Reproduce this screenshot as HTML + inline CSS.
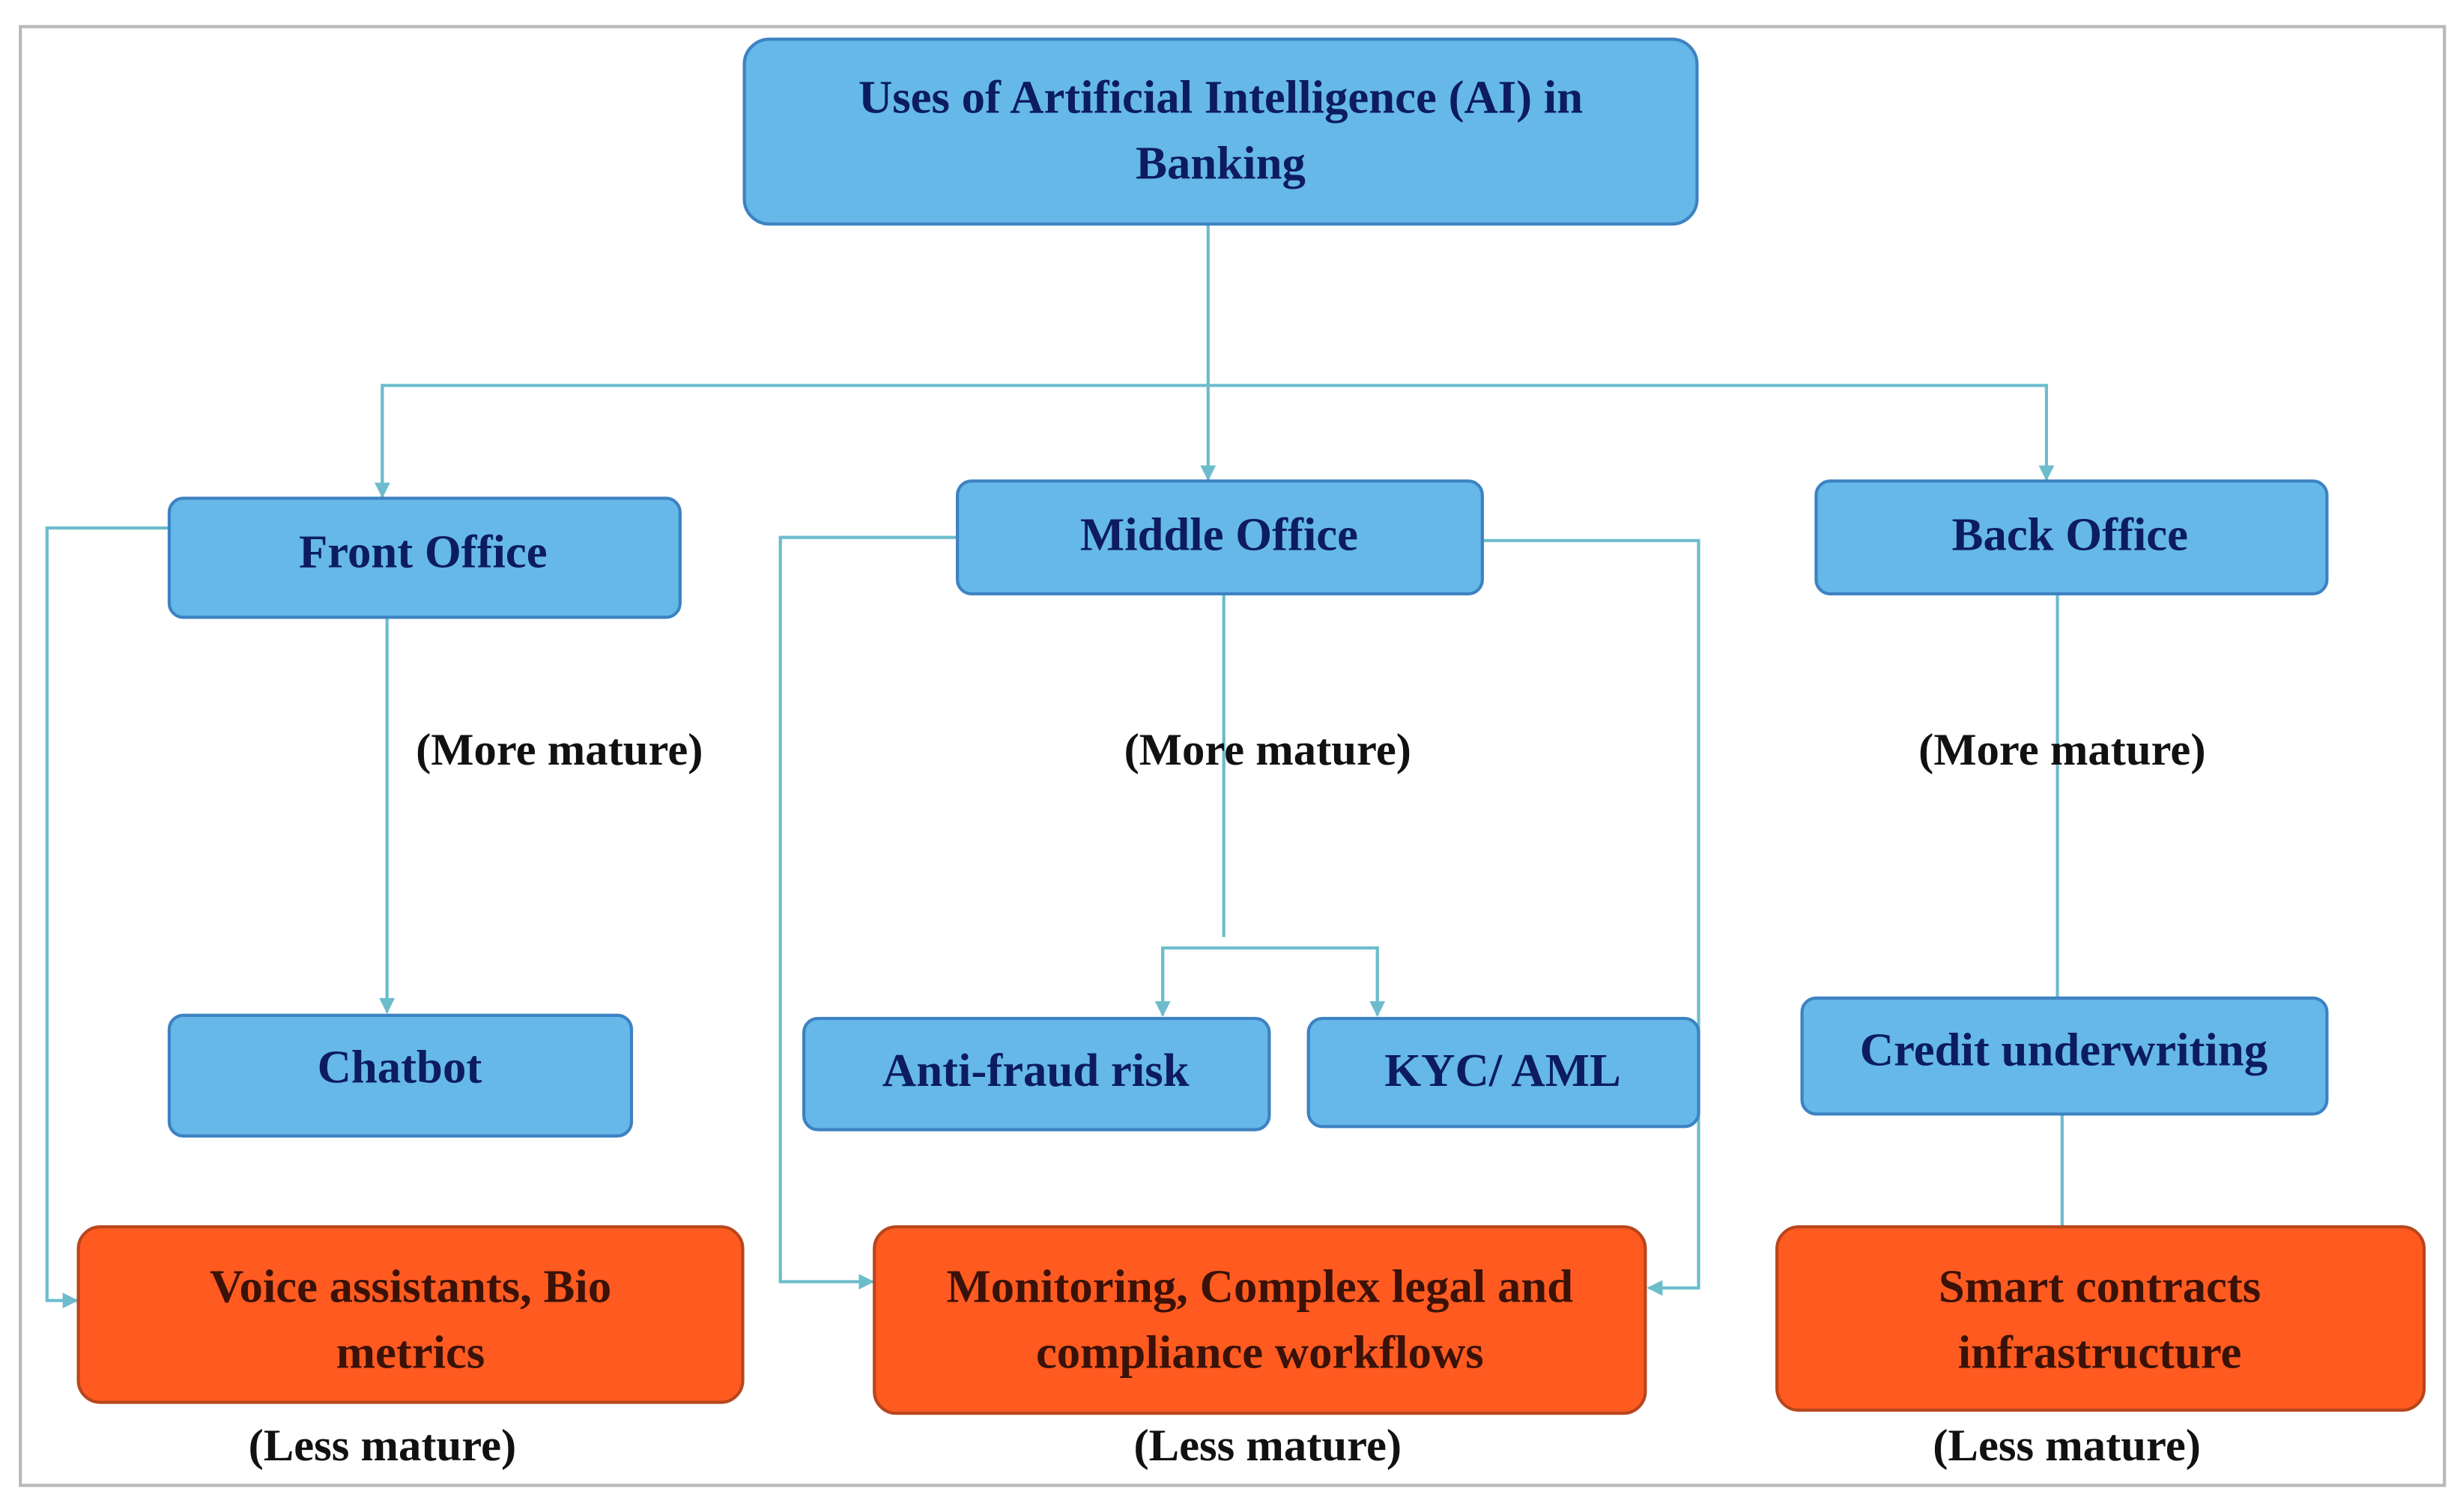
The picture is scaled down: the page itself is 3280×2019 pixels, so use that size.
<!DOCTYPE html>
<html><head><meta charset="utf-8"><style>
html,body{margin:0;padding:0;background:#fff;}
svg{display:block;}
text{font-family:"Liberation Serif",serif;font-weight:bold;}
</style></head><body>
<svg width="3280" height="2019" viewBox="0 0 1568 965" preserveAspectRatio="none" xmlns="http://www.w3.org/2000/svg">
<defs>
<marker id="a" markerWidth="10" markerHeight="10" refX="9" refY="5" orient="auto" markerUnits="userSpaceOnUse">
<path d="M0,0 L10,5 L0,10 z" fill="#6cbccc"/></marker>
</defs>
<rect x="0" y="0" width="1568" height="965" fill="#fff"/>
<rect x="13" y="17" width="1547" height="931" fill="none" stroke="#b8b8b8" stroke-width="2"/>
<g fill="none" stroke="#6cbccc" stroke-width="2">
<line x1="771" y1="143" x2="771" y2="306" marker-end="url(#a)"/>
<polyline points="244,318 244,246 1306,246 1306,306" marker-end="url(#a)"/>
<line x1="244" y1="246" x2="244" y2="317" marker-end="url(#a)"/>
<polyline points="108,337 30,337 30,830 49,830" marker-end="url(#a)"/>
<line x1="247" y1="394" x2="247" y2="646" marker-end="url(#a)"/>
<polyline points="611,343 498,343 498,818 557,818" marker-end="url(#a)"/>
<polyline points="946,345 1084,345 1084,822 1052,822" marker-end="url(#a)"/>
<line x1="781" y1="379" x2="781" y2="598"/>
<polyline points="742,648 742,605 879,605 879,648" marker-end="url(#a)"/>
<line x1="742" y1="605" x2="742" y2="648" marker-end="url(#a)"/>
<line x1="1313" y1="379" x2="1313" y2="636"/>
<line x1="1316" y1="711" x2="1316" y2="802" marker-end="url(#a)"/>
</g>
<g fill="#65b8e8" stroke="#3d82c2" stroke-width="2">
<rect x="475" y="25" width="608" height="118" rx="16"/>
<rect x="108" y="318" width="326" height="76" rx="9"/>
<rect x="611" y="307" width="335" height="72" rx="9"/>
<rect x="1159" y="307" width="326" height="72" rx="9"/>
<rect x="108" y="648" width="295" height="77" rx="9"/>
<rect x="513" y="650" width="297" height="71" rx="9"/>
<rect x="835" y="650" width="249" height="69" rx="9"/>
<rect x="1150" y="637" width="335" height="74" rx="9"/>
</g>
<g fill="#ff5a20" stroke="#b8461c" stroke-width="2">
<rect x="50" y="783" width="424" height="112" rx="14"/>
<rect x="558" y="783" width="492" height="119" rx="14"/>
<rect x="1134" y="783" width="413" height="117" rx="14"/>
</g>
<g fill="#0c1c5e" font-size="30" text-anchor="middle">
<text x="779" y="72">Uses of Artificial Intelligence (AI) in</text>
<text x="779" y="114">Banking</text>
<text x="270" y="362">Front Office</text>
<text x="778" y="351">Middle Office</text>
<text x="1321" y="351">Back Office</text>
<text x="255" y="691">Chatbot</text>
<text x="661" y="693">Anti-fraud risk</text>
<text x="959" y="693">KYC/ AML</text>
<text x="1317" y="680">Credit underwriting</text>
</g>
<g fill="#3a1208" font-size="30" text-anchor="middle">
<text x="262" y="831">Voice assistants, Bio</text>
<text x="262" y="873">metrics</text>
<text x="804" y="831">Monitoring, Complex legal and</text>
<text x="804" y="873">compliance workflows</text>
<text x="1340" y="831">Smart contracts</text>
<text x="1340" y="873">infrastructure</text>
</g>
<g fill="#111" font-size="29" text-anchor="middle">
<text x="357" y="488">(More mature)</text>
<text x="809" y="488">(More mature)</text>
<text x="1316" y="488">(More mature)</text>
<text x="244" y="932">(Less mature)</text>
<text x="809" y="932">(Less mature)</text>
<text x="1319" y="932">(Less mature)</text>
</g>
</svg>
</body></html>
